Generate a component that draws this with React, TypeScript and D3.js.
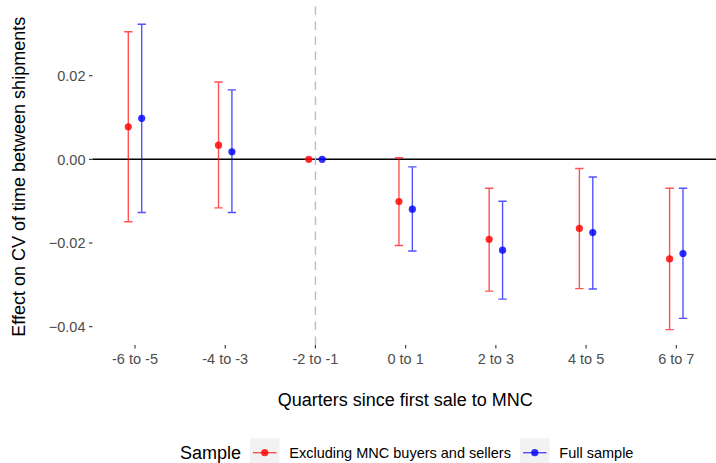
import React, { useEffect, useRef } from 'react';
import * as d3 from 'd3';

// Event-study estimates
const categories = ['-6 to -5', '-4 to -3', '-2 to -1', '0 to 1', '2 to 3', '4 to 5', '6 to 7'];
const seriesNames = ['Excluding MNC buyers and sellers', 'Full sample'];
const exclEstimate = [0.0078, 0.0034, 0, -0.0101, -0.0191, -0.0165, -0.0238];
const exclLower = [-0.0149, -0.0116, 0, -0.0206, -0.0315, -0.0309, -0.0407];
const exclUpper = [0.0305, 0.0185, 0, 0.0004, -0.0069, -0.0022, -0.0069];
const fullEstimate = [0.0098, 0.0018, 0, -0.0119, -0.0217, -0.0175, -0.0225];
const fullLower = [-0.0127, -0.0127, 0, -0.0219, -0.0334, -0.031, -0.038];
const fullUpper = [0.0323, 0.0166, 0, -0.0018, -0.01, -0.0042, -0.0069];
const yTicks = [-0.04, -0.02, 0, 0.02];
const eventCategory = '-2 to -1';

const FONT = '"Liberation Sans", Arial, Helvetica, sans-serif';
const COLORS = ['#ff0000', '#0000ff'];

export default function App() {
  const svgRef = useRef<SVGSVGElement | null>(null);

  useEffect(() => {
    const width = 716;
    const height = 463;
    const panel = { left: 92.5, right: 716, top: 5.5, bottom: 345 };

    const svg = d3.select(svgRef.current).attr('width', width).attr('height', height);
    svg.selectAll('*').remove();

    const x = d3.scalePoint<string>().domain(categories).range([135, 676.3]);
    const y = d3.scaleLinear().domain([-0.04, 0.02]).range([326.7, 75.7]);
    const dodge = d3.scalePoint<string>().domain(seriesNames).range([-6.7, 6.7]);

    const series = [
      { name: seriesNames[0], est: exclEstimate, lo: exclLower, hi: exclUpper, color: COLORS[0] },
      { name: seriesNames[1], est: fullEstimate, lo: fullLower, hi: fullUpper, color: COLORS[1] },
    ];

    // Axis ticks + labels
    const yAxis = svg.append('g');
    yTicks.forEach(t => {
      yAxis.append('line').attr('x1', panel.left - 3.5).attr('x2', panel.left)
        .attr('y1', y(t)).attr('y2', y(t)).attr('stroke', '#333').attr('stroke-width', 1.1);
      yAxis.append('text').attr('x', panel.left - 7).attr('y', y(t)).attr('dy', '0.36em')
        .attr('text-anchor', 'end').attr('fill', '#4d4d4d').attr('font-size', 14.5)
        .attr('font-family', FONT).text(t === 0 ? '0.00' : d3.format('.2f')(t));
    });

    const xAxis = svg.append('g');
    categories.forEach(c => {
      xAxis.append('line').attr('x1', x(c)!).attr('x2', x(c)!)
        .attr('y1', panel.bottom).attr('y2', panel.bottom + 3.5).attr('stroke', '#333').attr('stroke-width', 1.1);
      xAxis.append('text').attr('x', x(c)!).attr('y', 364.3).attr('text-anchor', 'middle')
        .attr('fill', '#4d4d4d').attr('font-size', 14.5).attr('font-family', FONT).text(c);
    });

    // Reference lines
    svg.append('line').attr('x1', panel.left).attr('x2', panel.right).attr('y1', y(0)).attr('y2', y(0))
      .attr('stroke', '#000').attr('stroke-width', 1.5);
    svg.append('line').attr('x1', x(eventCategory)!).attr('x2', x(eventCategory)!)
      .attr('y1', panel.bottom).attr('y2', panel.top)
      .attr('stroke', '#bdbdbd').attr('stroke-width', 1.4).attr('stroke-dasharray', '8.5 6.5');

    // Error bars and points
    series.forEach(s => {
      const g = svg.append('g');
      const rows = categories.map((c, i) => ({ c, est: s.est[i], lo: s.lo[i], hi: s.hi[i] }));
      const cx = (d: { c: string }) => x(d.c)! + dodge(s.name)!;
      g.selectAll('.bar').data(rows).join('path').attr('class', 'bar')
        .attr('d', d => `M${cx(d) - 4.2},${y(d.hi)}H${cx(d) + 4.2}M${cx(d)},${y(d.hi)}V${y(d.lo)}M${cx(d) - 4.2},${y(d.lo)}H${cx(d) + 4.2}`)
        .attr('fill', 'none').attr('stroke', s.color).attr('stroke-opacity', 0.68).attr('stroke-width', 1.4);
      g.selectAll('.pt').data(rows).join('circle').attr('class', 'pt')
        .attr('cx', cx).attr('cy', d => y(d.est)).attr('r', 3.6)
        .attr('fill', s.color).attr('fill-opacity', 0.82);
    });

    // Axis titles
    svg.append('text').attr('x', (panel.left + panel.right) / 2 + 1).attr('y', 406)
      .attr('text-anchor', 'middle').attr('font-size', 18).attr('font-family', FONT).attr('fill', '#000')
      .text('Quarters since first sale to MNC');
    svg.append('text').attr('transform', `translate(24.5,${(panel.top + panel.bottom) / 2 + 1.5}) rotate(-90)`)
      .attr('text-anchor', 'middle').attr('font-size', 18).attr('font-family', FONT).attr('fill', '#000')
      .text('Effect on CV of time between shipments');

    // Legend
    const legend = svg.append('g');
    legend.append('text').attr('x', 180).attr('y', 458.8).attr('font-size', 18).attr('font-family', FONT)
      .attr('fill', '#000').text('Sample');
    const keyX = [250, 520];
    series.forEach((s, i) => {
      const kx = keyX[i];
      legend.append('rect').attr('x', kx).attr('y', 438.3).attr('width', 29.5).attr('height', 29.5).attr('fill', '#f2f2f2');
      legend.append('line').attr('x1', kx + 3).attr('x2', kx + 26.5).attr('y1', 452.7).attr('y2', 452.7)
        .attr('stroke', s.color).attr('stroke-opacity', 0.68).attr('stroke-width', 1.4);
      legend.append('circle').attr('cx', kx + 14.75).attr('cy', 452.7).attr('r', 3.6)
        .attr('fill', s.color).attr('fill-opacity', 0.82);
      legend.append('text').attr('x', kx + 39.3).attr('y', 457.9).attr('font-size', 14.5)
        .attr('font-family', FONT).attr('fill', '#000').text(s.name);
    });
  }, []);

  return (
    <div style={{ position: 'absolute', left: 0, top: 0, width: 716, height: 463, background: '#fff' }}>
      <svg ref={svgRef} style={{ display: 'block' }} />
    </div>
  );
}
